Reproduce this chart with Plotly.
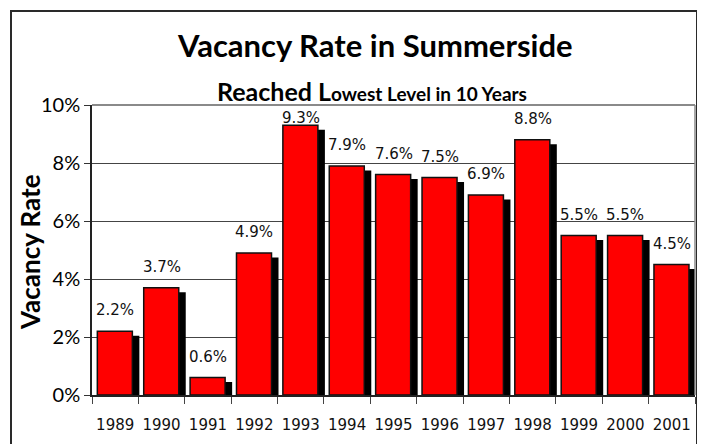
import plotly.graph_objects as go

years = ["1989", "1990", "1991", "1992", "1993", "1994", "1995",
         "1996", "1997", "1998", "1999", "2000", "2001"]
rates = [2.2, 3.7, 0.6, 4.9, 9.3, 7.9, 7.6, 7.5, 6.9, 8.8, 5.5, 5.5, 4.5]
labels = [f"{v:.1f}%" for v in rates]

# page body adds an 8px offset; layout pixel positions below are page positions
OFF = 8
W, H = 705, 444
L, R, T, B = 92 - OFF, 10 + OFF, 105 - OFF, 49 + OFF
PW, PH = W - L - R, H - T - B


def px_x(px):
    return (px - OFF - L) / PW


def px_y(py):
    return (H - B - (py - OFF)) / PH


BAR_W = 0.755
BAR_OFF = -0.385
SH_DX = 0.151
SH_DY = 0.155

LIGHT = "DejaVu Sans ExtraLight, DejaVu Sans"

fig = go.Figure()
fig.add_trace(go.Bar(
    x=list(range(len(years))), y=[v - SH_DY for v in rates],
    width=BAR_W, offset=BAR_OFF + SH_DX,
    marker=dict(color="black", line=dict(width=0)),
    hoverinfo="skip", showlegend=False,
))
fig.add_trace(go.Bar(
    x=list(range(len(years))), y=rates,
    width=BAR_W, offset=BAR_OFF,
    marker=dict(color="#FF0000", line=dict(color="#111111", width=1.5)),
    showlegend=False,
))

label_font = dict(family=LIGHT, size=15, color="#111111")
annotations = []
for i, (v, t) in enumerate(zip(rates, labels)):
    annotations.append(dict(
        x=i, y=min(v + 0.72, 9.55), xref="x", yref="y",
        text=t, showarrow=False, font=label_font,
        xanchor="center", yanchor="middle",
    ))

annotations += [
    dict(x=px_x(375), y=px_y(45), xref="paper", yref="paper",
         text="<b>Vacancy Rate in Summerside</b>", showarrow=False,
         font=dict(family="Lato", size=31, color="black"),
         xanchor="center", yanchor="middle"),
    dict(x=px_x(372), y=px_y(91), xref="paper", yref="paper",
         text="<b>Reached L<span style='font-size:19px'>owest Level in 10 Years</span></b>",
         showarrow=False,
         font=dict(family="Lato", size=25, color="black"),
         xanchor="center", yanchor="middle"),
    dict(x=px_x(30), y=px_y(252), xref="paper", yref="paper",
         text="<b>Vacancy Rate</b>", showarrow=False, textangle=-90,
         font=dict(family="Lato", size=26, color="black"),
         xanchor="center", yanchor="middle"),
]

shapes = [
    dict(type="line", xref="paper", yref="paper", x0=0, x1=1, y0=1, y1=1,
         line=dict(color="#8a8a8a", width=2)),
    dict(type="line", xref="paper", yref="paper", x0=1, x1=1, y0=0, y1=1,
         line=dict(color="#8a8a8a", width=1.5)),
    dict(type="rect", xref="paper", yref="paper",
         x0=px_x(11), x1=px_x(697), y0=px_y(480), y1=px_y(11),
         line=dict(color="#2a2a2a", width=2), fillcolor="rgba(0,0,0,0)"),
    dict(type="rect", xref="paper", yref="paper",
         x0=px_x(698), x1=px_x(715), y0=px_y(480), y1=px_y(15),
         line=dict(width=0), fillcolor="black"),
]

fig.update_layout(
    width=W, height=H,
    margin=dict(l=L, r=R, t=T, b=B, pad=0),
    paper_bgcolor="white", plot_bgcolor="white",
    barmode="overlay",
    annotations=annotations,
    shapes=shapes,
    xaxis=dict(
        range=[-0.5, len(years) - 0.5],
        tickmode="array", tickvals=list(range(len(years))), ticktext=years,
        showline=True, linecolor="#222222", linewidth=1.5,
        ticks="", showgrid=False,
        tickfont=dict(family=LIGHT, size=15, color="#111111"),
        ticklabelstandoff=15,
        minor=dict(tickvals=[i - 0.5 for i in range(len(years) + 1)],
                   ticks="outside", ticklen=7, tickcolor="#444444",
                   showgrid=False),
    ),
    yaxis=dict(
        range=[0, 10], dtick=2, ticksuffix="%",
        showline=True, linecolor="#222222", linewidth=1.5,
        ticks="outside", ticklen=6, tickcolor="#333333",
        showgrid=True, gridcolor="#444444", gridwidth=1,
        zeroline=False,
        tickfont=dict(family="Lato", size=20, color="black"),
    ),
)

fig.write_html("out.html")
